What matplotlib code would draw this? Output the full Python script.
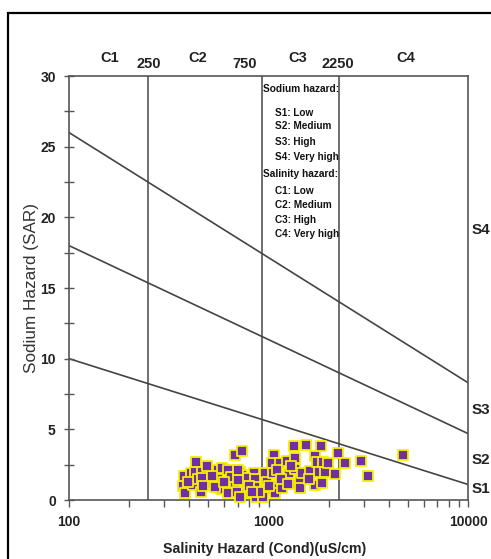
import matplotlib
matplotlib.use("Agg")
import matplotlib.pyplot as plt
from matplotlib.patches import Rectangle
from matplotlib.ticker import FixedLocator, LogLocator, NullFormatter

plt.rcParams['font.family'] = ['Liberation Sans', 'DejaVu Sans']

# --- sample data: electrical conductivity (uS/cm) and SAR ---
cond = [373, 378, 383, 409, 412, 420, 428, 433, 442, 463, 459, 509, 556, 583,
        560, 576, 629, 624, 629, 679, 734, 679, 693, 720, 734, 777, 777, 808,
        849, 856, 856, 866, 720, 960, 980, 980, 1062, 1041, 1050, 1103, 1082,
        1146, 1169, 1206, 1238, 1262, 1338, 1347, 1363, 1353, 1443, 1472, 1547,
        1620, 1716, 1750, 1785, 1704, 1840, 1870, 1855, 1926, 1987, 2147, 2231,
        2410, 2909, 3142, 4739, 464, 939, 521, 1438, 762, 650, 900, 1000, 1100,
        395, 470, 540, 600, 700, 800, 830, 1150, 1250, 1600, 1300, 700, 490]
sar = [0.99, 1.70, 0.52, 1.93, 1.18, 1.06, 2.00, 2.71, 1.46, 2.00, 0.59, 1.13,
       2.12, 2.24, 1.46, 0.78, 2.12, 1.18, 0.52, 3.18, 3.49, 1.18, 0.59, 2.00,
       1.77, 0.94, 0.47, 0.47, 1.89, 1.46, 0.94, 0.21, 0.23, 1.89, 1.30, 0.71,
       3.18, 2.60, 1.93, 1.06, 0.47, 2.64, 0.83, 1.65, 2.78, 1.89, 1.13, 3.84,
       2.95, 2.17, 1.42, 1.93, 3.89, 2.07, 3.11, 2.71, 2.00, 1.06, 3.84, 2.71,
       1.22, 2.00, 2.64, 1.82, 3.35, 2.60, 2.78, 1.70, 3.18, 1.56, 0.21, 1.70,
       0.85, 1.56, 1.60, 0.60, 1.00, 2.10,
       1.30, 1.00, 0.90, 1.30, 1.40, 1.00, 0.60, 1.50, 1.10, 1.50, 2.40, 2.10,
       2.40]

# salinity class boundaries (drawn) and their labels
cond_bounds = [250, 930, 2250]
bound_labels = ['250', '750', '2250']
bound_label_x = [252, 762, 2236]
class_labels = ['C1', 'C2', 'C3', 'C4']
class_label_x = [160, 440, 1405, 4875]

# sodium hazard dividing lines (SAR at 100 and 10000 uS/cm)
line_cond = [100, 10000]
sar_lines = [[10.0, 1.1], [18.0, 4.7], [26.0, 8.3]]
s_labels = ['S1', 'S2', 'S3', 'S4']
s_label_y = [0.8, 2.8, 6.4, 19.1]

# legend text inside the C3 column
key_head = ['Sodium hazard:', 'Salinity hazard:']
key_head_y = [29.1, 23.1]
key_items = ['S1: Low', 'S2: Medium', 'S3: High', 'S4: Very high',
             'C1: Low', 'C2: Medium', 'C3: High', 'C4: Very high']
key_items_y = [27.4, 26.45, 25.35, 24.3, 21.85, 20.9, 19.8, 18.8]

line_col = '#555555'

fig = plt.figure(figsize=(4.91, 5.59), dpi=100)
ax = fig.add_axes([69 / 491, 59 / 559, 399 / 491, 424 / 559])

ax.set_xscale('log')
ax.set_xlim(100, 10000)
ax.set_ylim(0, 30)

for sp in ax.spines.values():
    sp.set_color(line_col)
    sp.set_linewidth(1.2)

# class boundaries
for b in cond_bounds:
    ax.axvline(b, color=line_col, lw=1.2, zorder=1)

# sodium hazard lines
for ys in sar_lines:
    ax.plot(line_cond, ys, color='#444444', lw=1.2, zorder=1)

# samples
ax.scatter(cond, sar, marker='s', s=56, c='#7030a0', edgecolors='#f5f000',
           linewidths=1.3, zorder=3, clip_on=False)

# ticks
ax.xaxis.set_major_locator(FixedLocator([100, 1000, 10000]))
ax.xaxis.set_minor_locator(LogLocator(base=10, subs=range(2, 10)))
ax.xaxis.set_minor_formatter(NullFormatter())
ax.set_xticklabels(['100', '1000', '10000'])
ax.set_yticks([0, 5, 10, 15, 20, 25, 30])
ax.set_yticks([2.5, 7.5, 12.5, 17.5, 22.5, 27.5], minor=True)
ax.tick_params(axis='x', which='both', direction='out', length=5, width=1,
               color=line_col, labelsize=10, pad=6)
ax.tick_params(axis='y', which='both', direction='inout', length=7, width=1,
               color=line_col, labelsize=10, pad=6)
for lbl in ax.get_xticklabels() + ax.get_yticklabels():
    lbl.set_fontweight('bold')
    lbl.set_color('#222222')

ax.set_xlabel('Salinity Hazard (Cond)(uS/cm)', fontsize=10.2, fontweight='bold',
              color='#222222')
ax.xaxis.set_label_coords(0.49, -0.099)
ax.set_ylabel('Sodium Hazard (SAR)', fontsize=12.3, color='#333333')
ax.yaxis.set_label_coords(-0.074, 0.5)

xt = ax.get_xaxis_transform()
for lab, x in zip(class_labels, class_label_x):
    ax.text(x, 1.042, lab, transform=xt, ha='center', va='center',
            fontsize=10.5, fontweight='bold', color='#222222')
for lab, x in zip(bound_labels, bound_label_x):
    ax.text(x, 1.028, lab, transform=xt, ha='center', va='center',
            fontsize=10.5, fontweight='bold', color='#222222')

yt = ax.get_yaxis_transform()
for lab, y in zip(s_labels, s_label_y):
    ax.text(1.008, y, lab, transform=yt, ha='left', va='center',
            fontsize=11, fontweight='bold', color='#222222')

narrow = ['Liberation Sans Narrow', 'DejaVu Sans Condensed', 'Liberation Sans']
for lab, y in zip(key_head, key_head_y):
    ax.text(1453, y, lab, ha='center', va='center', fontsize=7.3,
            fontweight='bold', family=narrow, color='#111111')
for lab, y in zip(key_items, key_items_y):
    ax.text(1077, y, lab, ha='left', va='center', fontsize=7.2,
            fontweight='bold', family=narrow, color='#111111')

# outer frame
fig.add_artist(Rectangle((8 / 491, -0.1), 1.2, 1 - 13 / 559 + 0.1,
                         transform=fig.transFigure, fill=False,
                         ec='black', lw=1.6))

fig.savefig('out.png', dpi=100)
